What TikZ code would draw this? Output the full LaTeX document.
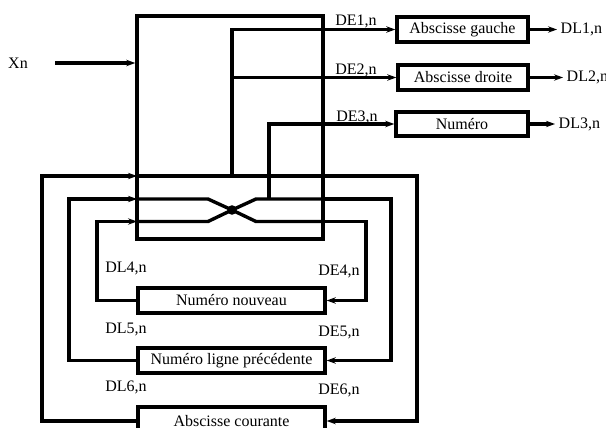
\documentclass[tikz,border=0pt]{standalone}
\usepackage{fontspec}
\setmainfont{Liberation Serif}
\usetikzlibrary{arrows.meta}
\begin{document}
\begin{tikzpicture}[x=0.5pt,y=-0.5pt,line width=1.7pt,
	box/.style={draw, line width=1.7pt, inner sep=0pt, minimum height=12.5pt, font=\fontsize{8}{9.6}\selectfont},
	arr/.style={-{Stealth[length=4.5pt,width=3.2pt]}},
	lbl/.style={inner sep=1pt, font=\fontsize{8}{9.6}\selectfont}]
	\useasboundingbox (0,0) rectangle (606,428);
	
	% processing block
	\node[box, minimum width=93pt, minimum height=111.5pt] (proc) at (230,127.5) {};
	\node[lbl] (xn) at (18,63) {Xn};
	\draw[arr] ([xshift=12pt]xn.east) -- (xn.east -| proc.west);
	
	% outputs on the right
	\node[box, minimum width=65.5pt] (gauche) at (462.5,29.5) {Abscisse gauche};
	\node[box, minimum width=65pt] (droite) at (463,77.5) {Abscisse droite};
	\node[box, minimum width=66pt, minimum height=12pt] (numero) at (462,124) {Numéro};
	\node[lbl, anchor=west] (dl1) at (557,29.5) {DL1,n};
	\node[lbl, anchor=west] (dl2) at (563,77.5) {DL2,n};
	\node[lbl, anchor=west] (dl3) at (555,124) {DL3,n};
	\foreach \i/\b in {1/gauche, 2/droite, 3/numero}
	\draw[arr] (\b.east) -- (dl\i.west);
	
	\node[lbl] (de1) at (356,21) {DE1,n};
	\node[lbl] (de2) at (356,70) {DE2,n};
	\node[lbl] (de3) at (357,117) {DE3,n};
	
	% memories below
	\node[box, minimum width=93.5pt] (nouveau) at (231.5,300.5) {Numéro nouveau};
	\node[box, minimum width=93.5pt] (precedente) at (231.5,360.5) {Numéro ligne précédente};
	\node[box, minimum width=93.5pt, minimum height=14pt] (courante) at (231.5,421) {Abscisse courante};
	
	\node[lbl] (dl4) at (126,268) {DL4,n};
	\node[lbl] (de4) at (339,271) {DE4,n};
	\node[lbl] (dl5) at (126,329) {DL5,n};
	\node[lbl] (de5) at (339,332) {DE5,n};
	\node[lbl] (dl6) at (126,387) {DL6,n};
	\node[lbl] (de6) at (339,390) {DE6,n};
	
	% internal wiring
	\coordinate (aL) at (137,176);   \coordinate (aR) at (323,176);
	\coordinate (bL) at (137,199);   \coordinate (bR) at (323,199);
	\coordinate (cL) at (137,221.5); \coordinate (cR) at (323,221.5);
	\coordinate (tap) at (232,176);
	\coordinate (tap3) at (269,199);
	\coordinate (x) at (232,210);
	
	\draw (aL) -- (aR);
	\draw (bL) -- (208,199) -- (x) -- (256,221.5) -- (cR);
	\draw (cL) -- (208,221.5) -- (x) -- (256,199) -- (bR);
	\fill (x) circle (2.4pt);
	
	\draw[arr] (tap) |- (gauche.west);
	\draw[arr] (droite.west -| tap) -- (droite.west);
	\draw[arr] (tap3) |- (numero.west);
	
	% feedback loops
	\draw[arr] (courante.west) -| (42,176) -- (aL);
	\draw[arr] (aR) -| (417,421) -- (courante.east);
	\draw[arr] (precedente.west) -| (69,199) -- (bL);
	\draw[arr] (bR) -| (391,360.5) -- (precedente.east);
	\draw[arr] (nouveau.west) -| (97,221.5) -- (cL);
	\draw[arr] (cR) -| (366,300.5) -- (nouveau.east);
\end{tikzpicture}
\end{document}
